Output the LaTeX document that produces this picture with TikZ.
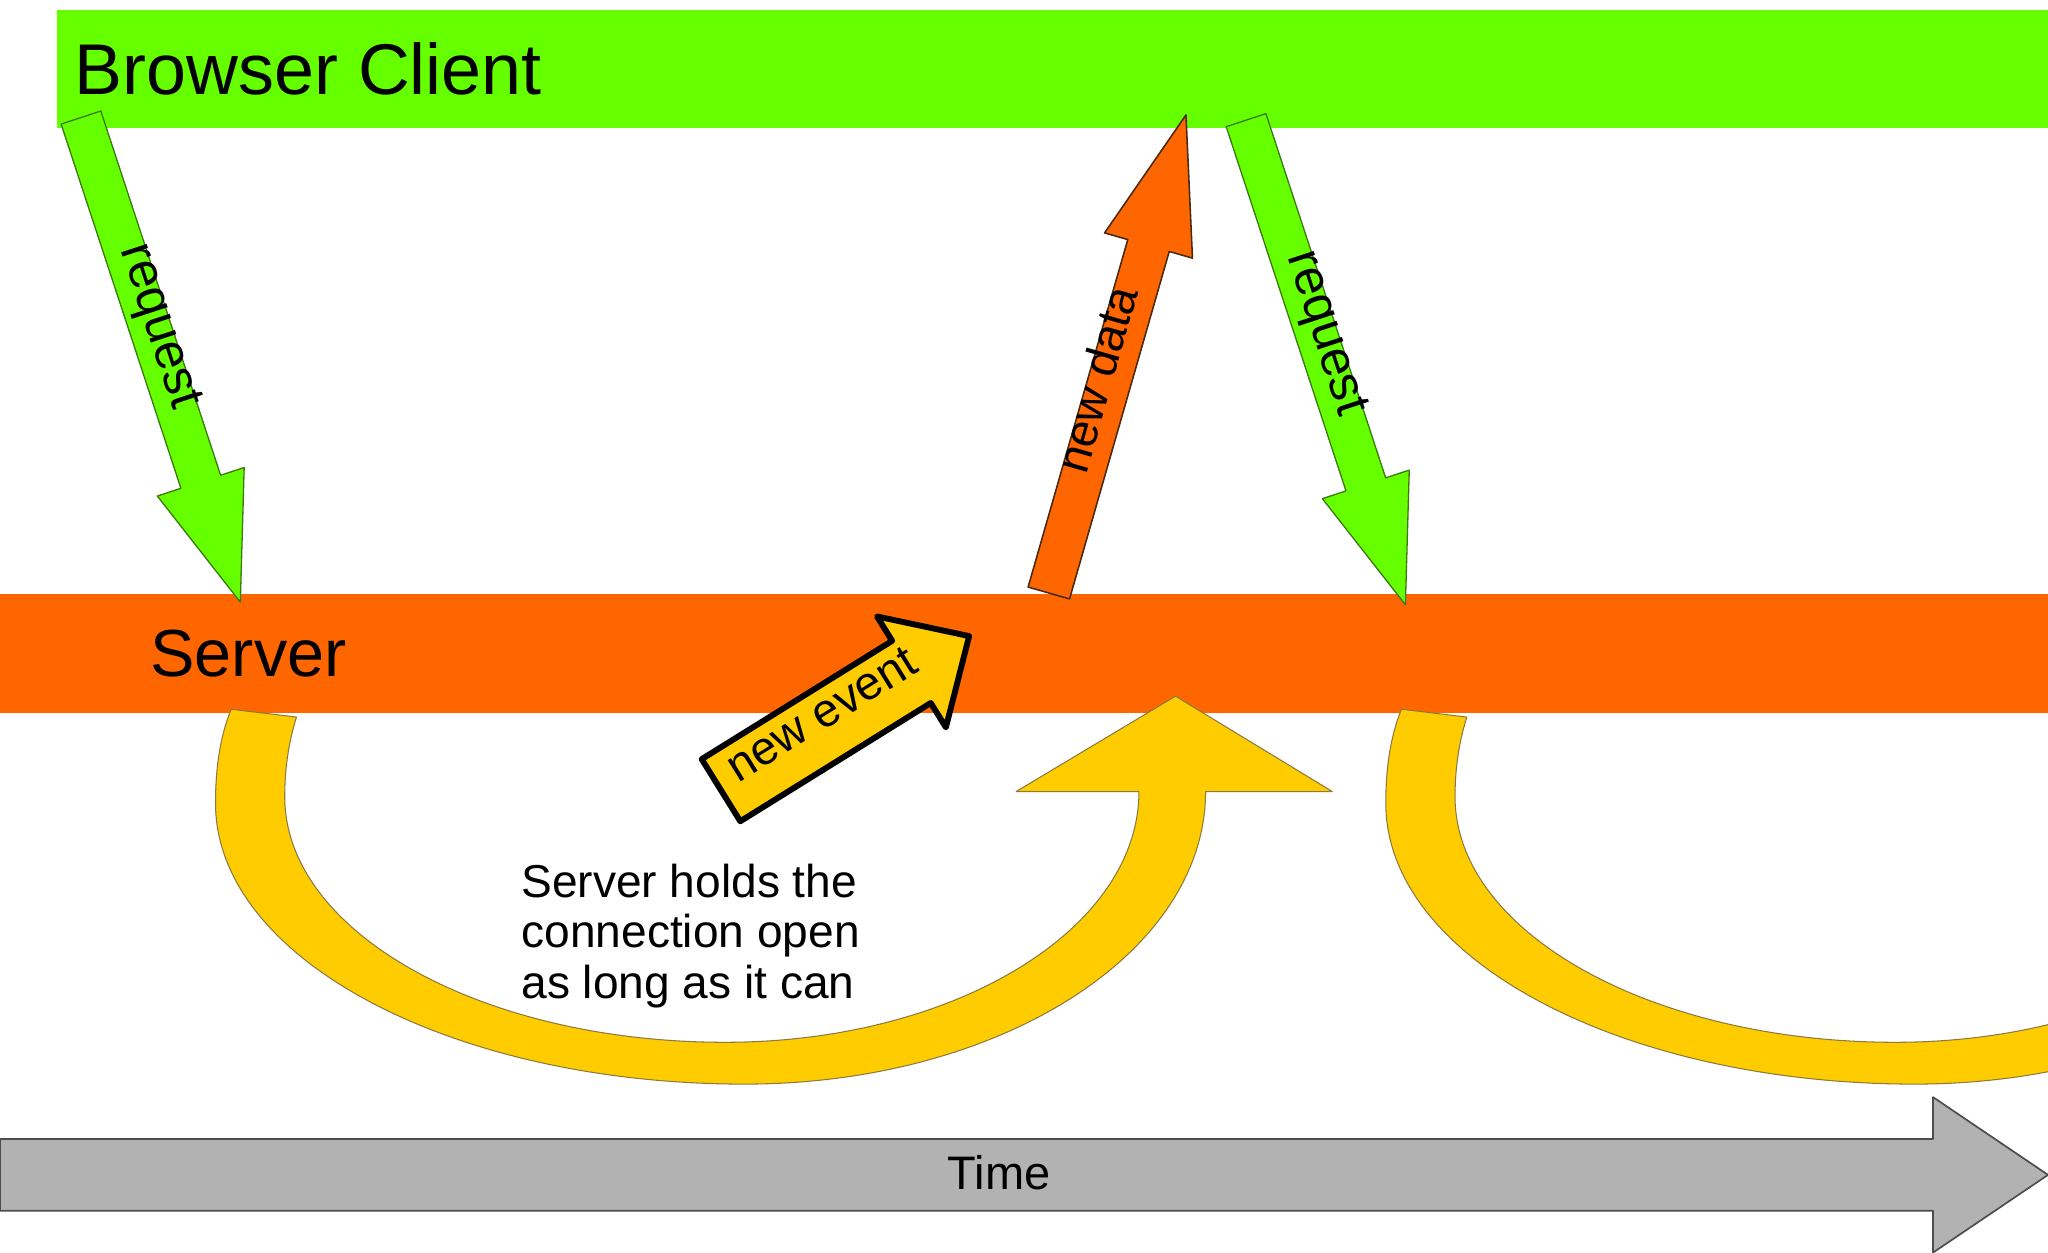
\documentclass[tikz,border=0pt]{standalone}
\usepackage{fontspec}
\setmainfont{Liberation Sans}
\usetikzlibrary{calc}
\definecolor{cgreen}{HTML}{66FF00}
\definecolor{corange}{HTML}{FF6600}
\definecolor{cyellow}{HTML}{FFCC00}
\definecolor{cgray}{HTML}{B2B2B2}
\definecolor{gedge}{HTML}{3A7A10}
\definecolor{oedge}{HTML}{4A2A10}
\definecolor{yedge}{HTML}{8A7A40}
\definecolor{tedge}{HTML}{4D4D4D}
\newcommand\blockarrow[6]{%
  \coordinate (ba-b) at ($(#2)!#5!(#1)$);
  \draw[#6] ($(#1)!#3!-90:(#2)$) -- ($(ba-b)!#3!90:(#1)$) -- ($(ba-b)!#4!90:(#1)$) -- (#2) -- ($(ba-b)!#4!-90:(#1)$) -- ($(ba-b)!#3!-90:(#1)$) -- ($(#1)!#3!90:(#2)$) -- cycle;
}
\begin{document}
\begin{tikzpicture}[x=1pt,y=-1pt,line join=round,
  bar/.style={rectangle,inner sep=0pt,outer sep=0pt,draw=none,anchor=north west},
  lbl/.style={font=\fontsize{36}{40}\selectfont,anchor=mid,inner sep=0pt},
  reqlbl/.style={font=\fontsize{39}{43}\selectfont,anchor=mid,inner sep=0pt},
  greenarrow/.style={fill=cgreen,draw=gedge,line width=1pt},
  orangearrow/.style={fill=corange,draw=oedge,line width=1.2pt},
  eventarrow/.style={fill=cyellow,draw=black,line width=4.5pt},
  timearrow/.style={fill=cgray,draw=tedge,line width=1.3pt},
  curvearrow/.style={fill=cyellow,draw=yedge,line width=0.8pt}]
\useasboundingbox (0,0) rectangle (1568,959);
\clip (0,0) rectangle (1568,959);
\fill[white] (0,0) rectangle (1568,959);
% bars
\node[bar,fill=cgreen,minimum width=1524pt,minimum height=90pt] (client) at (44,8) {};
\node[bar,fill=corange,minimum width=1568pt,minimum height=91pt] (server) at (0,455) {};
\node[font=\fontsize{55}{60}\selectfont,anchor=base west,inner sep=0pt] (clientlabel) at (57,72) {Browser Client};
\node[font=\fontsize{51}{56}\selectfont,anchor=base west,inner sep=0pt] (serverlabel) at (115,518) {Server};
% curved arrows
\path[curvearrow] (177,543) .. controls (168,565) and (165,590) .. (165,615)
  .. controls (165,734) and (346,830) .. (570,830)
  .. controls (765,830) and (923,730) .. (923,606)
  -- (1020,606) -- (900,533) -- (778,606) -- (872,606)
  .. controls (872,712) and (730,798) .. (555,798)
  .. controls (369,798) and (218,714) .. (218,610)
  .. controls (218,585) and (222,565) .. (227,549) -- cycle;
\begin{scope}[xshift=896pt]
\path[curvearrow] (177,543) .. controls (168,565) and (165,590) .. (165,615)
  .. controls (165,734) and (346,830) .. (570,830)
  .. controls (765,830) and (923,730) .. (923,606)
  -- (1020,606) -- (900,533) -- (778,606) -- (872,606)
  .. controls (872,712) and (730,798) .. (555,798)
  .. controls (369,798) and (218,714) .. (218,610)
  .. controls (218,585) and (222,565) .. (227,549) -- cycle;
\end{scope}
% end points of the straight arrows
\coordinate (r1t) at (62,90);   \coordinate (r1h) at (184,461);
\coordinate (ndt) at (803,454); \coordinate (ndh) at (908,88);
\coordinate (r2t) at (954,92);  \coordinate (r2h) at (1076,463);
\coordinate (net) at (552,605); \coordinate (neh) at (742,487);
\coordinate (tt) at (0,899.5);  \coordinate (th) at (1568,899.5);
\blockarrow{r1t}{r1h}{16pt}{35pt}{97pt}{greenarrow}
\blockarrow{ndt}{ndh}{16.5pt}{35pt}{104pt}{orangearrow}
\blockarrow{r2t}{r2h}{16pt}{35pt}{97pt}{greenarrow}
\blockarrow{net}{neh}{28pt}{50pt}{52pt}{eventarrow}
\blockarrow{tt}{th}{27.5pt}{59.5pt}{88pt}{timearrow}
% labels
\node[reqlbl,rotate=-71.8] (r1lbl) at ($(r1t)!0.437!(r1h)$) {request};
\node[lbl,rotate=74.0] (ndlbl) at ($(ndt)!0.44!(ndh)$) {new data};
\node[reqlbl,rotate=-71.8] (r2lbl) at ($(r2t)!0.445!(r2h)$) {request};
\node[lbl,rotate=31.8] (nelbl) at ($(net)!0.43!(neh)$) {new event};
\node[font=\fontsize{36}{40}\selectfont,anchor=center,inner sep=0pt] (timelabel) at (765,898) {Time};
\node[font=\fontsize{35.3}{38.8}\selectfont,align=left,anchor=north west,inner sep=0pt] (holdlabel) at (399,661) {Server holds the\\connection open\\as long as it can};
\end{tikzpicture}
\end{document}
